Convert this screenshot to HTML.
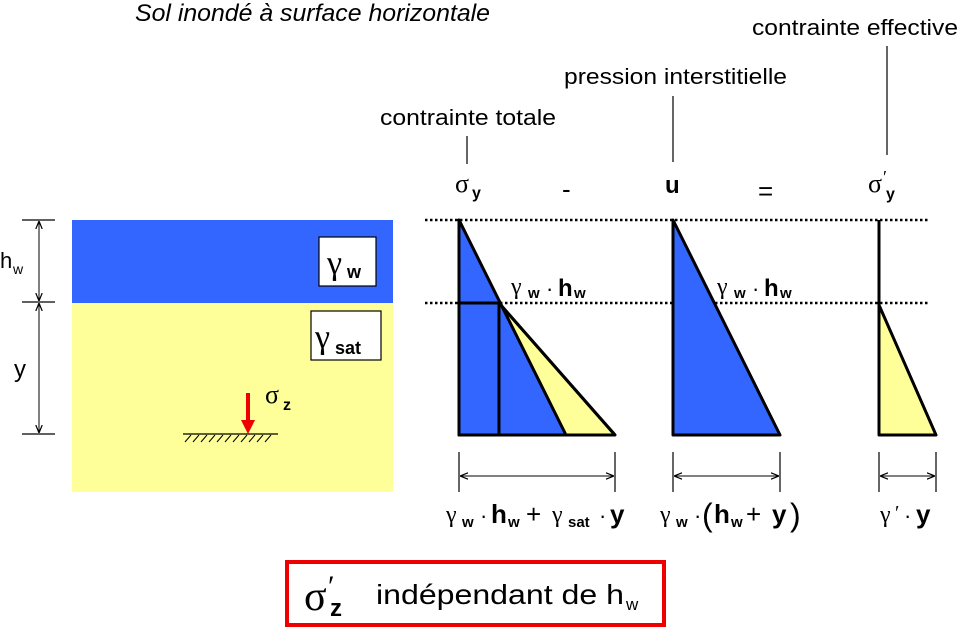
<!DOCTYPE html>
<html><head><meta charset="utf-8"><style>
html,body{margin:0;padding:0;background:#fff;}
svg{display:block;}
text{font-family:"Liberation Sans",sans-serif;}
.s{font-family:"Liberation Serif","DejaVu Serif",serif;}
</style></head><body>
<svg width="960" height="631" viewBox="0 0 960 631" xmlns="http://www.w3.org/2000/svg">
<defs>
<marker id="a" viewBox="0 0 10 10" refX="10" refY="5" markerWidth="8" markerHeight="8" orient="auto-start-reverse"><path d="M0,1 L10,5 L0,9" fill="none" stroke="#000" stroke-width="1.5"/></marker>
</defs>
<text x="135" y="21" font-size="24" font-style="italic" textLength="355" lengthAdjust="spacingAndGlyphs">Sol inondé à surface horizontale</text>
<text x="752" y="35" font-size="22" textLength="206" lengthAdjust="spacingAndGlyphs">contrainte effective</text>
<text x="564" y="84" font-size="22" textLength="223" lengthAdjust="spacingAndGlyphs">pression interstitielle</text>
<text x="380" y="125" font-size="22" textLength="176" lengthAdjust="spacingAndGlyphs">contrainte totale</text>
<line x1="467" y1="136" x2="467" y2="164" stroke="#000" stroke-width="1.2"/>
<line x1="673" y1="96" x2="673" y2="162" stroke="#000" stroke-width="1.2"/>
<line x1="887" y1="46" x2="887" y2="155" stroke="#000" stroke-width="1.2"/>
<text x="455" y="192" font-size="26" class="s">σ</text><text x="472" y="198" font-size="16" font-weight="bold">y</text>
<text x="562" y="198" font-size="26">-</text>
<text x="665" y="193" font-size="24" font-weight="bold">u</text>
<text x="758" y="200" font-size="26">=</text>
<text x="868" y="192" font-size="26" class="s">σ</text><text x="883" y="183" font-size="18" class="s">′</text><text x="886" y="199" font-size="16" font-weight="bold">y</text>
<rect x="72" y="220" width="321" height="83" fill="#3366ff"/>
<rect x="72" y="303" width="321" height="189" fill="#ffff99"/>
<rect x="319" y="237" width="57" height="49" fill="#fff" stroke="#000" stroke-width="1.2"/>
<text x="327" y="274" font-size="34" class="s">γ</text><text x="347" y="278" font-size="18" font-weight="bold">w</text>
<rect x="311" y="311" width="70" height="49" fill="#fff" stroke="#000" stroke-width="1.2"/>
<text x="315" y="348" font-size="34" class="s">γ</text><text x="335" y="354" font-size="18" font-weight="bold">sat</text>
<line x1="22" y1="220" x2="55" y2="220" stroke="#000" stroke-width="1.2"/>
<line x1="22" y1="302" x2="55" y2="302" stroke="#000" stroke-width="1.2"/>
<line x1="22" y1="434" x2="55" y2="434" stroke="#000" stroke-width="1.2"/>
<line x1="39" y1="221" x2="39" y2="301" stroke="#000" stroke-width="1" marker-start="url(#a)" marker-end="url(#a)"/>
<line x1="39" y1="303" x2="39" y2="433" stroke="#000" stroke-width="1" marker-start="url(#a)" marker-end="url(#a)"/>
<text x="0" y="268" font-size="22">h</text><text x="13" y="274" font-size="14">w</text>
<text x="14" y="377" font-size="24">y</text>
<line x1="183" y1="434" x2="278" y2="434" stroke="#000" stroke-width="1.3"/>
<path d="M185,442 l6,-7 M193,442 l6,-7 M201,442 l6,-7 M209,442 l6,-7 M217,442 l6,-7 M225,442 l6,-7 M233,442 l6,-7 M241,442 l6,-7 M249,442 l6,-7 M257,442 l6,-7 M265,442 l6,-7" stroke="#000" stroke-width="1"/>
<line x1="248" y1="393" x2="248" y2="421" stroke="#e00" stroke-width="4"/>
<polygon points="241,420 255,420 248,434" fill="#e00"/>
<text x="265" y="403" font-size="26" class="s">σ</text><text x="283" y="410" font-size="16" font-weight="bold">z</text>
<line x1="425" y1="220" x2="928" y2="220" stroke="#000" stroke-width="2.5" stroke-dasharray="2.5,2.5"/>
<line x1="425" y1="303" x2="928" y2="303" stroke="#000" stroke-width="2.5" stroke-dasharray="2.5,2.5"/>
<polygon points="459,220 499,303 615,435 459,435" fill="#ffff99" stroke="#000" stroke-width="3" stroke-linejoin="round"/>
<polygon points="459,220 566,435 459,435" fill="#3366ff" stroke="#000" stroke-width="3" stroke-linejoin="round"/>
<line x1="499" y1="303" x2="615" y2="435" stroke="#000" stroke-width="3"/>
<line x1="459" y1="303" x2="499" y2="303" stroke="#000" stroke-width="3"/>
<line x1="499" y1="303" x2="499" y2="435" stroke="#000" stroke-width="3"/>
<text x="511" y="294" font-size="24" class="s">γ</text><text x="528" y="298" font-size="15" font-weight="bold">w</text><text x="546" y="296" font-size="22">·</text><text x="558" y="296" font-size="24" font-weight="bold">h</text><text x="574" y="298" font-size="15" font-weight="bold">w</text>
<polygon points="673,220 780,435 673,435" fill="#3366ff" stroke="#000" stroke-width="3" stroke-linejoin="round"/>
<text x="717" y="294" font-size="24" class="s">γ</text><text x="734" y="298" font-size="15" font-weight="bold">w</text><text x="752" y="296" font-size="22">·</text><text x="764" y="296" font-size="24" font-weight="bold">h</text><text x="780" y="298" font-size="15" font-weight="bold">w</text>
<line x1="879" y1="220" x2="879" y2="305" stroke="#000" stroke-width="3"/>
<polygon points="879,305 936,435 879,435" fill="#ffff99" stroke="#000" stroke-width="3" stroke-linejoin="round"/>
<g stroke="#000" stroke-width="1.2">
<line x1="459" y1="452" x2="459" y2="492"/><line x1="615" y1="452" x2="615" y2="492"/>
<line x1="673" y1="452" x2="673" y2="492"/><line x1="780" y1="452" x2="780" y2="492"/>
<line x1="879" y1="452" x2="879" y2="492"/><line x1="936" y1="452" x2="936" y2="492"/>
</g>
<line x1="460" y1="476" x2="614" y2="476" stroke="#000" stroke-width="1" marker-start="url(#a)" marker-end="url(#a)"/>
<line x1="674" y1="476" x2="779" y2="476" stroke="#000" stroke-width="1" marker-start="url(#a)" marker-end="url(#a)"/>
<line x1="880" y1="476" x2="935" y2="476" stroke="#000" stroke-width="1" marker-start="url(#a)" marker-end="url(#a)"/>
<text x="446" y="522" font-size="24" class="s">γ</text><text x="462" y="527" font-size="15" font-weight="bold">w</text><text x="480" y="523" font-size="22">·</text><text x="491" y="523" font-size="26" font-weight="bold">h</text><text x="508" y="527" font-size="15" font-weight="bold">w</text><text x="526" y="523" font-size="26">+</text><text x="552" y="522" font-size="24" class="s">γ</text><text x="568" y="527" font-size="15" font-weight="bold">sat</text><text x="599" y="523" font-size="22">·</text><text x="610" y="523" font-size="26" font-weight="bold">y</text>
<text x="660" y="522" font-size="24" class="s">γ</text><text x="676" y="527" font-size="15" font-weight="bold">w</text><text x="694" y="523" font-size="22">·</text><text x="702" y="526" font-size="32">(</text><text x="714" y="523" font-size="26" font-weight="bold">h</text><text x="731" y="527" font-size="15" font-weight="bold">w</text><text x="746" y="523" font-size="26">+</text><text x="772" y="523" font-size="26" font-weight="bold">y</text><text x="790" y="526" font-size="32">)</text>
<text x="880" y="522" font-size="24" class="s">γ</text><text x="895" y="519" font-size="20" class="s">′</text><text x="904" y="523" font-size="22">·</text><text x="916" y="523" font-size="26" font-weight="bold">y</text>
<rect x="287" y="562" width="377" height="63" fill="#fff" stroke="#e00" stroke-width="4"/>
<text x="304" y="610" font-size="42" class="s">σ</text><text x="328" y="596" font-size="30" class="s">′</text><text x="330" y="616" font-size="24" font-weight="bold">z</text>
<text x="376" y="604" font-size="28" textLength="248" lengthAdjust="spacingAndGlyphs">indépendant de h</text><text x="626" y="610" font-size="17">w</text>
</svg>
</body></html>
